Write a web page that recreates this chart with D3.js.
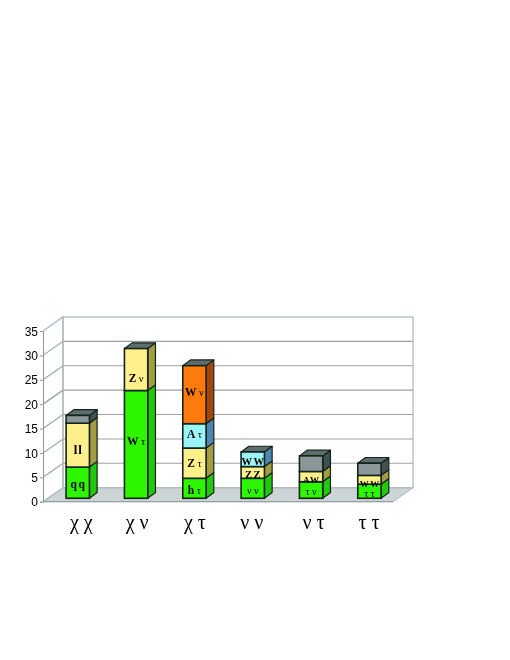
<!DOCTYPE html>
<html><head><meta charset="utf-8">
<script src="https://cdn.jsdelivr.net/npm/d3@7"></script>
<style>html,body{margin:0;padding:0;background:#fff}svg{display:block}</style>
</head><body><svg id="c" width="510" height="660"></svg>
<script>
const categories = ["χ χ","χ ν","χ τ","ν ν","ν τ","τ τ"];
const green  = [6.4,22.1,4.1,4.1,3.4,2.9];
const yellow = [9.0,8.6,6.2,2.4,2.1,1.8];
const cyan   = [0,0,5.0,3.0,0,0];
const orange = [0,0,11.9,0,0,0];
const grey   = [1.6,0,0,0,3.2,2.5];
const greenLabels  = ["q q","W τ","h τ","ν ν","τ ν","τ τ"];
const yellowLabels = ["l l","Z ν","Z τ","Z Z","A W","W W"];
const cyanLabels   = ["","","A τ","W W","",""];
const orangeLabels = ["","","W ν","","",""];
const greyLabels   = ["","","","","",""];
const yTicks = [0,5,10,15,20,25,30,35];

const seriesKeys = ["green","yellow","cyan","orange","grey"];
const values = {green,yellow,cyan,orange,grey};
const labels = {green:greenLabels,yellow:yellowLabels,cyan:cyanLabels,orange:orangeLabels,grey:greyLabels};
const fills = {
  green:{f:"#2ff500",s:"#22c80a"},
  yellow:{f:"#fff08c",s:"#a39c42"},
  cyan:{f:"#9af5f8",s:"#4f86b0"},
  orange:{f:"#ff7a0e",s:"#a34408"},
  grey:{f:"#8b9899",s:"#3f4f50"}
};
const table = categories.map((c,i)=>{const r={cat:c};seriesKeys.forEach(k=>r[k]=values[k][i]);return r;});
const stacked = d3.stack().keys(seriesKeys)(table);

const svg = d3.select("#c");
const defs = svg.append("defs");
defs.append("filter").attr("id","soft").attr("x","-5%").attr("y","-5%").attr("width","110%").attr("height","110%")
  .append("feGaussianBlur").attr("stdDeviation",0.35);
const root = svg.append("g").attr("filter","url(#soft)");

const x = d3.scaleBand().domain(categories).range([43,393]).paddingInner(0.6).paddingOuter(0.3);
const y = d3.scaleLinear().domain([0,35]).range([501.7,331]);
const wallDx = 20, wallDy = -14;
const barDx = 5.6, barDy = -3.4;
const sideDx = 7.7, sideDy = -5.7;
const gridCol = "#9da3a5", wallCol = "#aab8bd";

root.append("path").attr("fill","#cdd4d6").attr("stroke",wallCol).attr("stroke-width",1)
 .attr("d",d3.line()([[x.range()[0],y(0)],[x.range()[1],y(0)],[x.range()[1]+wallDx,y(0)+wallDy],[x.range()[0]+wallDx,y(0)+wallDy]])+"Z");
root.append("rect").attr("x",x.range()[0]+wallDx).attr("y",y(35)+wallDy)
 .attr("width",x.range()[1]-x.range()[0]).attr("height",y(0)-y(35))
 .attr("fill","#fff").attr("stroke",wallCol).attr("stroke-width",1.2);
yTicks.forEach(t=>{
  if(t>0 && t<35){
    root.append("path").attr("fill","none").attr("stroke",gridCol).attr("stroke-width",t===20?1.4:1.1)
     .attr("d",d3.line()([[x.range()[0],y(t)],[x.range()[0]+wallDx,y(t)+wallDy],[x.range()[1]+wallDx,y(t)+wallDy]]));
  }
});
root.append("path").attr("fill","none").attr("stroke",wallCol).attr("stroke-width",1.2)
 .attr("d",d3.line()([[x.range()[0],y(35)],[x.range()[0]+wallDx,y(35)+wallDy],[x.range()[0]+wallDx,y(0)+wallDy],[x.range()[0],y(0)]]));
root.append("g").attr("transform",`translate(${x.range()[0]},0)`)
 .call(d3.axisLeft(y).tickValues(yTicks).tickSize(3).tickPadding(2))
 .call(g=>{g.selectAll("path,line").attr("stroke","#8d9a9e").attr("stroke-width",1);
   g.selectAll("text").attr("fill","#000").attr("font-family","Liberation Sans").attr("font-size",12).attr("dy","0.34em");});
root.append("line").attr("x1",x.range()[0]).attr("x2",x.range()[1]).attr("y1",y(0)).attr("y2",y(0)).attr("stroke","#8d9a9e");

// hand-placed label nudges, in px, as the original places them off-centre
const nudge = {"yellow0":4,"yellow1":7,"green1":-4.5,"orange2":-3.5,"cyan2":-3,"yellow2":-1,"yellow4":1.5,"yellow5":1.5};

const edge="#14231a", bw=x.bandwidth();
table.forEach((d,i)=>{
  const g=root.append("g");
  const x0=x(d.cat)+barDx, x1=x0+bw;
  const Y=v=>y(v)+barDy;
  const segs=stacked.map(s=>({key:s.key,a:s[i][0],b:s[i][1],label:labels[s.key][i]})).filter(s=>s.b>s.a);
  segs.forEach(s=>{
    g.append("path").attr("fill",fills[s.key].s).attr("stroke",edge).attr("stroke-width",1.2).attr("stroke-linejoin","round")
     .attr("d",d3.line()([[x1,Y(s.a)],[x1+sideDx,Y(s.a)+sideDy],[x1+sideDx,Y(s.b)+sideDy],[x1,Y(s.b)]])+"Z");
  });
  const topV=segs[segs.length-1].b;
  g.append("path").attr("fill","#5d6c6c").attr("stroke",edge).attr("stroke-width",1.2).attr("stroke-linejoin","round")
   .attr("d",d3.line()([[x0,Y(topV)],[x0+sideDx,Y(topV)+sideDy],[x1+sideDx,Y(topV)+sideDy],[x1,Y(topV)]])+"Z");
  segs.forEach(s=>{
    g.append("rect").attr("x",x0).attr("width",bw).attr("y",Y(s.b)).attr("height",Y(s.a)-Y(s.b))
     .attr("fill",fills[s.key].f).attr("stroke",edge).attr("stroke-width",1.6);
  });
  segs.forEach(s=>{
    if(s.label){
      const h=Y(s.a)-Y(s.b);
      const big=h>=13 && i<3;
      const parts=s.label.split(" ");
      const t=g.append("text").attr("x",(x0+x1)/2).attr("y",(Y(s.a)+Y(s.b))/2+(nudge[s.key+i]||0)).attr("dy","0.33em")
        .attr("text-anchor","middle").attr("font-family","Liberation Serif").attr("fill","#000");
      parts.forEach((p,j)=>{
        const greek=/[ντ]/.test(p);
        t.append("tspan").attr("dx",j?(p==="l"?1:(greek?2.5:1.5)):0).text(p)
         .attr("font-weight",greek?"normal":"bold")
         .attr("font-size",greek?(big?10.5:10):(p==="l"?13:(big?11.5:(i===3?10.5:9))));
      });
    }
  });
});

// category labels: two glyphs set apart
const catShift = [3.5,1,0.5,-1,2.5,-0.5];
categories.forEach((c,i)=>{
  const cx=x(c)+barDx+bw/2+catShift[i];
  const parts=c.split(" ");
  root.append("text").attr("x",cx).attr("y",529).attr("text-anchor","middle")
   .attr("font-family","Liberation Serif").attr("font-size",20).attr("fill","#000")
   .selectAll("tspan").data(parts).join("tspan").attr("dx",(d,j)=>j?5:0).text(d=>d);
});
</script></body></html>
